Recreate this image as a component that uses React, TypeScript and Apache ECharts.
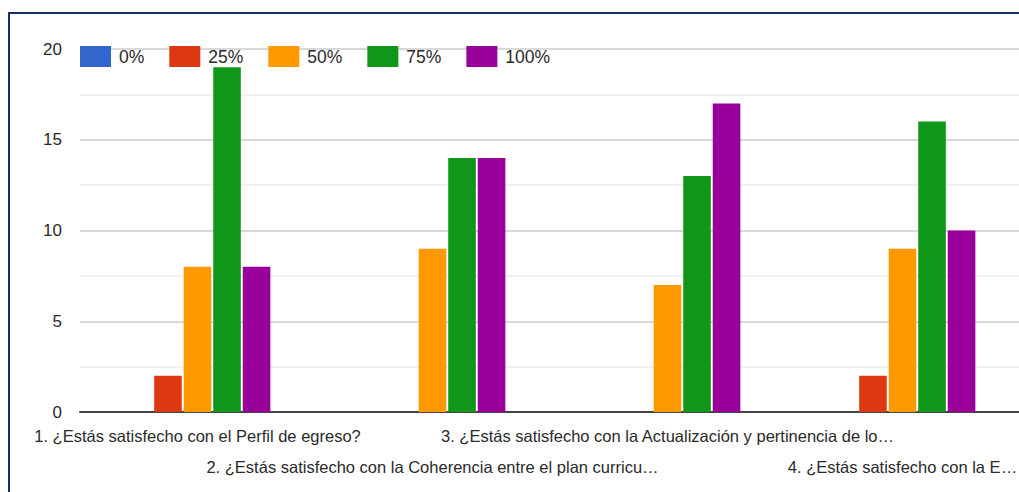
import React, { useEffect, useRef } from "react";
import * as echarts from "echarts";

const categories = [
  "1. ¿Estás satisfecho con el Perfil de egreso?",
  "2. ¿Estás satisfecho con la Coherencia entre el plan curricu…",
  "3. ¿Estás satisfecho con la Actualización y pertinencia de lo…",
  "4. ¿Estás satisfecho con la E…",
];
const seriesNames = ["0%", "25%", "50%", "75%", "100%"];
const values0 = [0, 0, 0, 0];
const values25 = [2, 0, 0, 2];
const values50 = [8, 9, 7, 9];
const values75 = [19, 14, 13, 16];
const values100 = [8, 14, 17, 10];
const colors = ["#3366cc", "#dc3912", "#ff9900", "#109618", "#990099"];

const FONT = "'Liberation Sans', Arial, sans-serif";
const FS = 16.5;

export default function App() {
  const ref = useRef<HTMLDivElement>(null);
  useEffect(() => {
    if (!ref.current) return;
    const chart = echarts.init(ref.current, null, { renderer: "svg" });
    const all = [values0, values25, values50, values75, values100];
    chart.setOption({
      animation: false,
      color: colors,
      textStyle: { fontFamily: FONT },
      legend: {
        left: 80,
        top: 46,
        padding: 0,
        itemWidth: 31,
        itemHeight: 21,
        itemGap: 25,
        icon: "rect",
        textStyle: { fontFamily: FONT, fontSize: 17.5, color: "#2a2a2a", padding: [0, 0, 0, 3] },
        data: seriesNames,
      },
      grid: { left: 80, top: 49, width: 940, height: 363, outerBoundsMode: "none", containLabel: false },
      xAxis: {
        type: "category",
        data: categories,
        axisTick: { show: false },
        axisLine: { lineStyle: { color: "#444", width: 2 } },
        axisLabel: {
          interval: 0,
          hideOverlap: false,
          margin: 8,
          fontFamily: FONT,
          fontSize: FS,
          lineHeight: 31,
          color: "#2a2a2a",
          formatter: (v: string, i: number) => (i % 2 === 1 ? "\n" + v : v),
        },
      },
      yAxis: {
        type: "value",
        min: 0,
        max: 20,
        interval: 5,
        axisLine: { show: false },
        axisTick: { show: false },
        axisLabel: { margin: 18, fontFamily: FONT, fontSize: 17, color: "#2a2a2a" },
        splitLine: { lineStyle: { color: "#cccccc", width: 1.5 } },
        minorTick: { show: false, splitNumber: 2 },
        minorSplitLine: { show: true, lineStyle: { color: "#ebebeb", width: 1.5 } },
      },
      series: seriesNames.map((name, k) => ({
        name,
        type: "bar",
        data: all[k],
        barGap: "7%",
        barCategoryGap: "38%",
        itemStyle: { color: colors[k] },
      })),
      graphic: [
        {
          type: "rect",
          shape: { x: 9, y: 13, width: 1200, height: 700 },
          style: { fill: "none", stroke: "#142f6a", lineWidth: 2 },
          silent: true,
          z: 100,
        },
      ],
    });
    return () => chart.dispose();
  }, []);
  return (
    <div
      ref={ref}
      style={{ position: "fixed", left: 0, top: 0, width: 1019, height: 492, background: "#fff" }}
    />
  );
}
